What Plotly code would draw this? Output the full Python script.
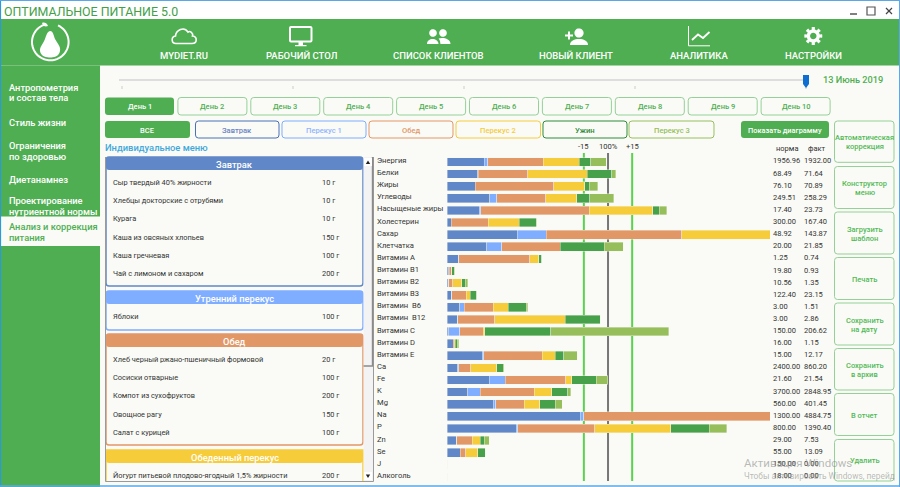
import re
import numpy as np
import plotly.graph_objects as go

# %%
# nutrients, top to bottom; every series is a share of the norm in percent
nutrients = ["Энергия", "Белки", "Жиры", "Углеводы", "Насыщеные жиры", "Холестерин", "Сахар", "Клетчатка",
             "Витамин A", "Витамин B1", "Витамин B2", "Витамин B3", "Витамин  B6", "Витамин  B12", "Витамин C",
             "Витамин D", "Витамин E", "Ca", "Fe", "K", "Mg", "Na", "P", "Zn", "Se", "J", "Алкоголь"]
breakfast = [23.0, 19.0, 17.4, 26.7, 20.1, 2.5, 43.5, 24.8, 7.0, 1.0, 1.2, 3.1, 7.9, 6.8, 1.2,
             3.8, 21.9, 6.8, 26.1, 13.0, 28.6, 82.8, 42.9, 6.2, 8.1, 0, 0]
snack1 = [2.3, 0.4, 0.2, 4.1, 0.8, 0, 18.2, 9.1, 0.4, 0.4, 0, 0, 2.7, 0, 6.8,
          0, 0.8, 0.6, 10.1, 7.5, 1.7, 2.1, 1.0, 0, 0, 0, 0]
lunch = [34.4, 30.6, 48.7, 30.6, 67.5, 23.0, 84.0, 36.4, 44.1, 1.5, 2.5, 8.7, 18.2, 23.0, 14.5,
         0.6, 36.4, 7.5, 37.7, 33.7, 17.6, 290.9, 48.0, 9.5, 3.5, 0, 0]
snack2 = [22.4, 37.1, 19.3, 19.3, 39.5, 19.3, 148.0, 0, 5.6, 0.2, 5.6, 2.5, 9.1, 43.5, 1.0,
          0.8, 8.1, 16.1, 3.7, 11.0, 9.7, 0, 47.1, 4.8, 7.5, 0, 0]
dinner = [7.2, 15.3, 2.7, 8.1, 3.9, 10.6, 0, 27.3, 1.7, 1.3, 2.1, 4.3, 11.4, 21.9, 41.0,
          1.2, 5.4, 3.9, 15.1, 9.9, 9.7, 0, 24.0, 2.5, 4.8, 0, 0]
snack3 = [9.5, 2.3, 5.2, 14.9, 4.8, 0.4, 0, 12.0, 0, 0.4, 1.4, 0, 0.8, 0, 73.3,
          0.8, 8.3, 0.8, 7.0, 1.9, 4.3, 0, 10.8, 3.1, 0, 0, 0]
norm = [1956.96, 68.49, 76.10, 249.51, 17.40, 300.00, 48.92, 20.00, 1.25, 19.80, 10.56, 122.40, 3.00, 3.00,
        150.00, 16.00, 15.00, 2400.00, 21.60, 3700.00, 560.00, 1300.00, 800.00, 29.00, 55.00, 150.00, 18.00]
fact = [1932.00, 71.64, 70.89, 258.29, 23.73, 167.40, 143.87, 21.85, 0.74, 0.93, 1.35, 23.15, 1.51, 2.86,
        206.62, 1.15, 12.17, 860.20, 21.54, 2848.95, 401.45, 4884.75, 1390.40, 7.53, 13.09, 0.00, 0.00]
meal_names = ["Завтрак", "Перекус 1", "Обед", "Перекус 2", "Ужин", "Перекус 3"]
meal_values = [breakfast, snack1, lunch, snack2, dinner, snack3]
meal_colors = ["#6088c8", "#7fadff", "#e29767", "#f6cc3a", "#47a04a", "#96bf5c"]
ref_lines = [85, 100, 115]
ref_labels = ["-15", "100%", "+15"]

nav_labels = ["MYDIET.RU", "РАБОЧИЙ СТОЛ", "СПИСОК КЛИЕНТОВ", "НОВЫЙ КЛИЕНТ", "АНАЛИТИКА", "НАСТРОЙКИ"]
side_lines = ["Антропометрия", "и состав тела", "Стиль жизни", "Ограничения", "по здоровью", "Диетанамнез",
              "Проектирование", "нутриентной нормы"]
side_active = ["Анализ и коррекция", "питания"]
days = ["День %d" % d for d in range(1, 11)]
side_buttons = [["Автоматическая", "коррекция"], ["Конструктор", "меню"], ["Загрузить", "шаблон"], ["Печать"],
                ["Сохранить", "на дату"], ["Сохранить", "в архив"], ["В отчет"], ["Удалить"]]
menu_blocks = [
    ("Завтрак", "#6088c8", ["Сыр твердый 40% жирности", "Хлебцы докторские с отрубями", "Курага",
                            "Каша из овсяных хлопьев", "Каша гречневая", "Чай с лимоном и сахаром"],
     ["10 г", "10 г", "10 г", "150 г", "100 г", "200 г"]),
    ("Утренний перекус", "#7fadff", ["Яблоки"], ["100 г"]),
    ("Обед", "#e29767", ["Хлеб черный ржано-пшеничный формовой", "Сосиски отварные", "Компот из сухофруктов",
                         "Овощное рагу", "Салат с курицей"],
     ["20 г", "100 г", "200 г", "150 г", "100 г"]),
    ("Обеденный перекус", "#f6cc3a", ["Йогурт питьевой плодово-ягодный 1,5% жирности"], ["200 г"]),
]

GREEN = "#4fae52"
BG = "#fafbf6"
DARK = "#333333"
W, H = 900, 487
FONT = "Roboto"

shapes = []
notes = []


def px(x, y):
    return x / W, 1 - y / H


def path_px(d):
    # path written in screen pixels -> paper coordinates
    count = [0]

    def conv(m):
        v = float(m.group())
        count[0] += 1
        return "%.5f" % (v / W if count[0] % 2 else 1 - v / H)
    return re.sub(r"-?\d+\.?\d*", conv, d)


def draw(d, fill=None, line=None, width=1, layer="below"):
    shapes.append(dict(type="path", path=path_px(d), xref="paper", yref="paper", layer=layer,
                       fillcolor=fill or "rgba(0,0,0,0)", line=dict(color=line or "rgba(0,0,0,0)", width=width if line else 0)))


def rbox(x0, y0, x1, y1, r=3):
    return (f"M{x0 + r},{y0} L{x1 - r},{y0} Q{x1},{y0} {x1},{y0 + r} L{x1},{y1 - r} Q{x1},{y1} {x1 - r},{y1} "
            f"L{x0 + r},{y1} Q{x0},{y1} {x0},{y1 - r} L{x0},{y0 + r} Q{x0},{y0} {x0 + r},{y0} Z")


def poly(points, close=True):
    d = "M" + " L".join("%.2f,%.2f" % (a, b) for a, b in points)
    return d + (" Z" if close else "")


def arc(cx, cy, r, a0=0, a1=360, n=48):
    t = np.radians(np.linspace(a0, a1, n))
    return [(cx + r * np.cos(v), cy + r * np.sin(v)) for v in t]


def text(x, y, s, size=9, color=DARK, anchor="center", weight=400):
    # left anchored annotations sit about a pixel right of their anchor
    xp, yp = px(x - 1.2 if anchor == "left" else x, y)
    notes.append(dict(x=xp, y=yp, xref="paper", yref="paper", text=s, showarrow=False, xanchor=anchor, yanchor="middle",
                      borderpad=0, font=dict(family=FONT, size=size, color=color, weight=weight)))


# %% window frame, header, sidebar
draw(rbox(0, 0, 900, 19, 0), fill="white")
draw(rbox(0, 19, 900, 65.5, 0), fill=GREEN)
draw(rbox(0, 65.5, 100, 487, 0), fill=GREEN)
draw(rbox(1, 216.5, 100, 246, 0), fill=BG)
text(4, 11.5, "ОПТИМАЛЬНОЕ ПИТАНИЕ 5.0", size=12.4, color="#43a047", anchor="left")
draw("M850,14 L857,14", line="#555555", width=1.5)
draw(rbox(867, 7, 875, 15, 0), line="#555555", width=1.2)
draw("M886,8 L892,14 M892,8 L886,14", line="#444444", width=1.2)

# logo: ring with a gap, pear and leaf
draw(poly(arc(50.3, 42, 18.3, -65, 250), close=False), line="white", width=2)
draw("M50.3,31 C53,31 53.5,35 55,39 C58,44 61,47 60,51 C59,57 53,57.5 50.3,57.5 "
     "C47,57.5 41,57 40,51 C39.5,47 43,44 45,39 C46.5,35 47.5,31 50.3,31 Z", fill="white")
draw("M42,23 C44,22 47,23 48,26 C45,27 43,26 42,23 Z", fill="white")

# nav icons
draw("M176,43.5 C171,43.5 171,36.5 175.5,36 C176,30 184,26 188,32 C190,30.5 193.5,33 192.5,36 "
     "C197.5,36.5 197.5,43.5 192,43.5 Z", line="white", width=1.6)
draw(rbox(290, 27, 311.5, 41.5, 1), line="white", width=2)
draw(rbox(298.5, 42, 303, 45, 0), fill="white")
draw(rbox(295, 45, 306.5, 46.3, 0), fill="white")
draw(poly(arc(433, 33, 3.8)), fill="white")
draw(poly(arc(443, 33, 3.8)), fill="white")
draw("M427,44 C427,37.5 438,37.5 438.5,44 Z", fill="white")
draw("M440.5,44 C440,40 439.5,39.5 438.5,38.5 C442,37 450.5,38 450.5,44 Z", fill="white")
draw("M565,35.5 L573,35.5 M569,31.5 L569,39.5", line="white", width=2)
draw(poly(arc(579, 33, 4.6)), fill="white")
draw("M570,45 C570,37 588,37 588,45 Z", fill="white")
draw("M688.5,26 L688.5,45.8 L710,45.8", line="white", width=1)
draw("M692,40 L698,34.5 L703,38 L709.5,32", line="white", width=1.8)
gear = []
for k in range(8):
    a = k * 45
    gear += arc(813.3, 36, 6.6, a + 13, a + 32, 4)
    gear += arc(813.3, 36, 9, a + 34, a + 56, 4)
draw(poly(gear) + " " + poly(arc(813.3, 36, 3.2)), fill="white")
for cx, lab in zip([184, 301, 438, 576, 698.5, 813], nav_labels):
    text(cx, 55.5, lab, size=9.5, color="white", weight=500)

for y, lab in zip([87, 98, 122, 145, 156, 180, 200, 211], side_lines):
    text(9.5, y, lab, size=9.3, color="white", anchor="left", weight=500)
for y, lab in zip([226, 237], side_active):
    text(9.5, y, lab, size=9.3, color=GREEN, anchor="left", weight=500)

# %% date slider
draw("M119,80 L805,80", line="#dedede", width=2)
for x in [122, 293, 464, 635, 806]:
    draw(f"M{x},86 L{x},89", line="#cccccc", width=1)
draw("M803,75 L809,75 L809,84 L806,88 L803,84 Z", fill="#0f6fd0")
text(823, 79.5, "13 Июнь 2019", size=9.2, color=GREEN, anchor="left", weight=500)

# %% day and meal buttons
for i, d in enumerate(days):
    x0 = 105 + 72.9 * i
    if i == 0:
        draw(rbox(x0, 97.5, x0 + 69, 115), fill=GREEN)
    else:
        draw(rbox(x0, 97.5, x0 + 69, 115), line="#94d097", fill=BG)
    text(x0 + 34.5, 106.5, d, size=7.5, color="white" if i == 0 else GREEN, weight=500)

draw(rbox(105, 121, 190, 138), fill=GREEN)
text(147.5, 130, "ВСЕ", size=7.5, color="white", weight=500)
for (x0, x1), lab, col, tcol in zip([(195.5, 279), (282, 366), (369, 453), (456, 540.5), (543, 627), (629, 714)],
                                    meal_names, ["#4a70b5", "#7fadff", "#e29767", "#f6cc3a", "#2e8b3a", "#96bf5c"],
                                    ["#6a85c5", "#8fb4ff", "#e29767", "#f6cc3a", "#2e8b3a", "#96bf5c"]):
    draw(rbox(x0, 121, x1, 138), line=col, fill=BG)
    text((x0 + x1) / 2, 130, lab, size=7.6, color=tcol, weight=500)
draw(rbox(741, 121, 829, 138), fill=GREEN)
text(785, 130, "Показать диаграмму", size=7.4, color="white", weight=500)

# %% right hand buttons
for (y0, y1), lines in zip([(121, 162.3), (166.5, 208.5), (212, 254), (257.5, 299.5), (303, 345), (348.5, 390),
                            (393.5, 435.5), (439.5, 481)], side_buttons):
    draw(rbox(834.5, y0, 894, y1), line="#94d097", fill=BG)
    mid = (y0 + y1) / 2
    for k, lab in enumerate(lines):
        text(864.5, mid + (k - (len(lines) - 1) / 2) * 9 + 0.5, lab, size=7.5, color="#52b957", weight=500)

# %% menu list
text(105, 147.5, "Индивидуальное меню", size=9.4, color="#3fa8dc", anchor="left", weight=500)
block_tops = [157, 291, 334, 450]
block_bottoms = [286, 330, 445, 481]
item_ys = [[182.5, 200.5, 218.5, 237, 255, 273], [316], [359.5, 377.5, 395.5, 414, 432], [475]]
for top, bottom, rows, (title, col, foods, amounts) in zip(block_tops, block_bottoms, item_ys, menu_blocks):
    if bottom < 481:
        draw(rbox(106, top, 363, bottom, 3), line=col, width=1.5, fill=BG)
    else:
        draw(f"M106,{bottom} L106,{top} L363,{top} L363,{bottom}", line=col, width=1.5)
    draw(rbox(106, top, 363, top + 13, 3), fill=col)
    text(234.5, top + 7, title, size=9.3, color="white", weight=500)
    for y, f, a in zip(rows, foods, amounts):
        text(113, y, f, size=7.4, anchor="left")
        text(322, y, a, size=7.4, anchor="left")
draw("M105.5,157 L105.5,481.5 L373.5,481.5 L373.5,157", line="#9a9a9a", width=1)
draw(rbox(363.5, 157, 373, 481, 0), fill="#f3f3f3")
draw("M372.5,157 L372.5,366 L363.5,366", line="#8a8a8a", width=1.4)
draw(rbox(364, 158, 372, 166, 0), fill="white")
draw("M365.8,164 L370.2,164 L368,160.5 Z", fill="#222222")
draw(rbox(364, 472, 372, 480, 0), fill="white")
draw("M365.8,474.5 L370.2,474.5 L368,478 Z", fill="#222222")

# %% chart
fig = go.Figure()
for name, values, color in zip(meal_names, meal_values, meal_colors):
    fig.add_trace(go.Bar(y=nutrients, x=values, name=name, orientation="h",
                         marker=dict(color=color, line=dict(color="#f4f7ee", width=0.4))))

for v, lab in zip(ref_lines, ref_labels):
    shapes.append(dict(type="line", xref="x", yref="y domain", x0=v, x1=v, y0=0, y1=1, layer="below",
                       line=dict(color="#777777" if v == 100 else "#5ad14f", width=2)))
    notes.append(dict(x=v, y=px(0, 146)[1], xref="x", yref="paper", text=lab, showarrow=False, yanchor="middle",
                      borderpad=0, font=dict(family=FONT, size=7.6, color=DARK)))

text(786.7, 148.5, "норма", size=7.5)
text(816.7, 148.5, "факт", size=7.5)
for name, a, b in zip(nutrients, norm, fact):
    for x, val in [(772, a), (803, b)]:
        notes.append(dict(x=x / W, y=name, xref="paper", yref="y", text="%.2f" % val, showarrow=False, xanchor="left",
                          yanchor="middle", borderpad=0, yshift=1,
                          font=dict(family=FONT, size=7.5, color=DARK)))
    notes.append(dict(x=376 / W, y=name, xref="paper", yref="y", text=name, showarrow=False, xanchor="left",
                      yanchor="middle", borderpad=0, yshift=1.5,
                      font=dict(family=FONT, size=7.6, color=DARK)))

# activation watermark and bottom/left window border
text(744, 463, "Активация Windows", size=11.5, color="rgba(140,140,140,0.6)", anchor="left")
text(744, 476, "Чтобы активировать Windows, перейд", size=8.4, color="rgba(140,140,140,0.6)", anchor="left")
draw("M0.5,0 L0.5,487", line="#2c9ad8", width=1.2, layer="above")
draw("M0,486 L900,486", line="#5aa8e8", width=1.5, layer="above")
draw("M899.5,0 L899.5,487", line="#5aa8e8", width=1, layer="above")
draw("M0,0.5 L900,0.5", line="#5aa8e8", width=1, layer="above")

fig.update_layout(
    width=W, height=H, margin=dict(l=0, r=0, t=0, b=0), barmode="stack", bargap=0.28, showlegend=False,
    paper_bgcolor=BG, plot_bgcolor="rgba(0,0,0,0)", shapes=shapes, annotations=notes,
    xaxis=dict(domain=[447 / W, 770 / W], range=[0, 200.6], visible=False),
    yaxis=dict(domain=[1 - 481 / H, 1 - 153 / H], type="category", range=[26.34, -0.743], visible=False),
)
fig.write_html("out.html", config=dict(displayModeBar=False),
               post_script="document.body.style.margin='0';document.body.style.overflow='hidden';")
